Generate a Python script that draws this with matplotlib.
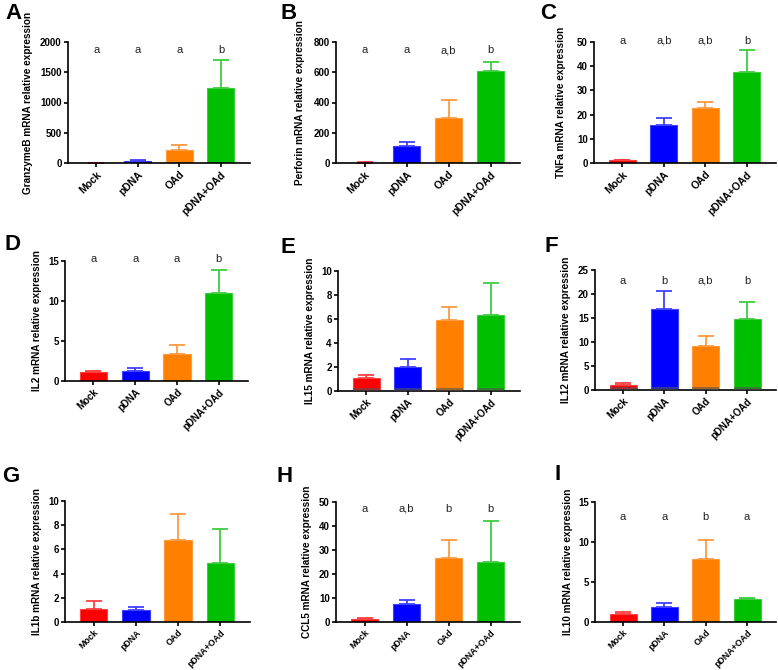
import matplotlib.pyplot as plt
import numpy as np

plt.rcParams['font.family'] = ['Liberation Sans', 'DejaVu Sans']

groups = ['Mock', 'pDNA', 'OAd', 'pDNA+OAd']
colors = ['#ff0000', '#0000ff', '#ff8000', '#00bf00']
err_colors = ['#ff4040', '#4040ff', '#ff9a40', '#40cc40']

# panel letter, y label, means, upper error ends, ylim top, ticks, letters, letter y, gray base
panels = [
    ('A', 'GranzymeB mRNA relative expression', [3, 40, 220, 1240], [6, 55, 305, 1710],
     2000, [0, 500, 1000, 1500, 2000], ['a', 'a', 'a', 'b'], 1870, 0),
    ('B', 'Perforin mRNA relative expression', [3, 110, 295, 605], [5, 140, 415, 665],
     800, [0, 200, 400, 600, 800], ['a', 'a', 'a,b', 'b'], 745, 0),
    ('C', 'TNFa mRNA relative expression', [1.2, 15.7, 22.6, 37.5], [1.4, 18.8, 25.2, 46.5],
     50, [0, 10, 20, 30, 40, 50], ['a', 'a,b', 'a,b', 'b'], 50.5, 0),
    ('D', 'IL2 mRNA relative expression', [1.1, 1.25, 3.35, 11.0], [1.25, 1.6, 4.5, 13.9],
     15, [0, 5, 10, 15], ['a', 'a', 'a', 'b'], 15.2, 0),
    ('E', 'IL15 mRNA relative expression', [1.05, 2.0, 5.9, 6.35], [1.35, 2.7, 7.0, 9.0],
     10, [0, 2, 4, 6, 8, 10], None, 0, 0.28),
    ('F', 'IL12 mRNA relative expression', [1.1, 16.9, 9.2, 14.8], [1.5, 20.7, 11.3, 18.4],
     25, [0, 5, 10, 15, 20, 25], ['a', 'b', 'a,b', 'b'], 22.8, 0.7),
    ('G', 'IL1b mRNA relative expression', [1.05, 1.0, 6.75, 4.85], [1.7, 1.25, 8.9, 7.65],
     10, [0, 2, 4, 6, 8, 10], None, 0, 0),
    ('H', 'CCL5 mRNA relative expression', [1.2, 7.5, 26.5, 25.0], [1.6, 9.3, 34.0, 42.0],
     50, [0, 10, 20, 30, 40, 50], ['a', 'a,b', 'b', 'b'], 47.2, 0),
    ('I', 'IL10 mRNA relative expression', [1.05, 1.9, 7.9, 2.85], [1.3, 2.35, 10.3, 3.05],
     15, [0, 5, 10, 15], ['a', 'a', 'b', 'a'], 13.1, 0),
]

# axes boxes in pixels: left, right, top, bottom, label offset, letter x, letter y, xtick size
boxes = [
    (68, 250, 42, 163, 35, 5, 19, 7.5), (336, 520, 42, 163, 31, 280, 19, 7.5),
    (594, 776, 42, 163, 28, 540, 19, 7.5),
    (65, 248, 261, 381, 23, 5, 250, 7), (338, 520, 271, 391, 23, 280, 253, 7),
    (595, 776, 270, 390, 24, 545, 252, 7),
    (65, 250, 501, 622, 23, 2, 482, 6.4), (336, 520, 502, 622, 24, 277, 482, 6.4),
    (595, 776, 502, 622, 22, 555, 480, 6.4),
]

W, H = 778, 670
fig = plt.figure(figsize=(W / 100, H / 100), dpi=100)
x = np.arange(4)

for p, b in zip(panels, boxes):
    letter, ylab, means, tops, ymax, ticks, sig, sig_y, base = p
    l, r, t, bt, loff, lx, ly, xfs = b
    ax = fig.add_axes([l / W, 1 - bt / H, (r - l) / W, (bt - t) / H])
    ax.bar(x, means, width=0.65, color=colors, edgecolor=err_colors, linewidth=0.8, zorder=2)
    for i in range(4):
        ax.errorbar(x[i], means[i], yerr=[[0], [tops[i] - means[i]]], color=err_colors[i],
                    capsize=6, elinewidth=1.3, capthick=1.3, zorder=1)
    if base > 0:
        ax.bar(x, [base] * 4, width=0.65, color='#555555', alpha=0.6, zorder=3)
    if sig:
        for i in range(4):
            ax.text(x[i], sig_y, sig[i], ha='center', va='center', fontsize=8, color='#222222')
    ax.set_xlim(-0.68, 3.7)
    ax.set_ylim(0, ymax)
    ax.set_yticks(ticks)
    ax.set_yticklabels([str(v) for v in ticks], fontsize=7, fontweight='bold')
    ax.set_xticks(x)
    ax.set_xticklabels(groups, rotation=45, ha='right', rotation_mode='anchor',
                       fontsize=xfs, fontweight='bold')
    ax.set_ylabel(ylab, fontsize=7.2, fontweight='bold')
    ax.yaxis.set_label_coords(-loff / (r - l), 0.5)
    for s in ['top', 'right']:
        ax.spines[s].set_visible(False)
    for s in ['left', 'bottom']:
        ax.spines[s].set_linewidth(1.2)
    ax.tick_params(width=1.2, length=3, pad=1.5)
    fig.text(lx / W, 1 - ly / H, letter, fontsize=16, fontweight='bold', ha='left', va='baseline')

fig.savefig('out.png', dpi=100)
